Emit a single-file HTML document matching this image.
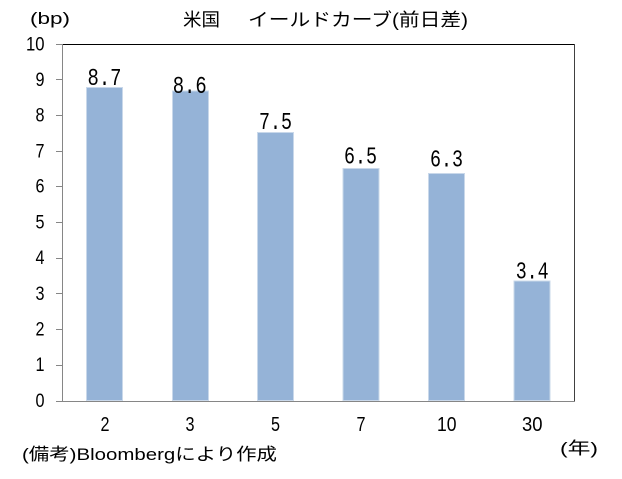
<!DOCTYPE html>
<html><head><meta charset="utf-8"><style>
html,body{margin:0;padding:0;background:#fff;}
svg{display:block;}
text{fill:#000;}
.jp{font-family:"Liberation Sans","Noto Sans CJK JP",sans-serif;}
.num{font-family:"Liberation Sans",sans-serif;}
.mono{font-family:"Liberation Mono",monospace;}
</style></head><body>
<svg width="622" height="479" viewBox="0 0 622 479" xmlns="http://www.w3.org/2000/svg">
<rect x="0" y="0" width="622" height="479" fill="#fff"/>
<!-- title -->
<text class="jp" x="183" y="26" font-size="18" textLength="37" lengthAdjust="spacingAndGlyphs">米国</text>
<text class="jp" x="248" y="26" font-size="18" textLength="220" lengthAdjust="spacingAndGlyphs">イールドカーブ(前日差)</text>
<text class="jp" x="30" y="24" font-size="17" textLength="40" lengthAdjust="spacingAndGlyphs">(bp)</text>
<!-- plot frame -->
<line x1="62" y1="44.5" x2="574.5" y2="44.5" stroke="#000" stroke-width="1"/>
<line x1="574.5" y1="44" x2="574.5" y2="401" stroke="#404040" stroke-width="1"/>
<!-- bars -->
<g fill="#95B3D7" stroke="#c9d8ea" stroke-width="1">
<rect x="86.5" y="87.5" width="36" height="313"/>
<rect x="172.5" y="91" width="36" height="309.5"/>
<rect x="257.5" y="132.5" width="36" height="268"/>
<rect x="343" y="168.5" width="36" height="232"/>
<rect x="428.5" y="173.5" width="36" height="227"/>
<rect x="514" y="281" width="36" height="119.5"/>
</g>
<!-- axes -->
<g stroke="#868686" stroke-width="1">
<line x1="62.5" y1="44" x2="62.5" y2="401"/>
<line x1="56" y1="401.5" x2="575" y2="401.5"/>
<line x1="56" y1="44.5" x2="62" y2="44.5"/>
<line x1="56" y1="79.5" x2="62" y2="79.5"/>
<line x1="56" y1="115.5" x2="62" y2="115.5"/>
<line x1="56" y1="151.5" x2="62" y2="151.5"/>
<line x1="56" y1="186.5" x2="62" y2="186.5"/>
<line x1="56" y1="222.5" x2="62" y2="222.5"/>
<line x1="56" y1="258.5" x2="62" y2="258.5"/>
<line x1="56" y1="293.5" x2="62" y2="293.5"/>
<line x1="56" y1="329.5" x2="62" y2="329.5"/>
<line x1="56" y1="365.5" x2="62" y2="365.5"/>
</g>
<!-- y labels -->
<g class="num" font-size="19">
<text x="26" y="50.5" textLength="18.5" lengthAdjust="spacingAndGlyphs">10</text>
<text x="35.5" y="86" textLength="9" lengthAdjust="spacingAndGlyphs">9</text>
<text x="35.5" y="121.5" textLength="9" lengthAdjust="spacingAndGlyphs">8</text>
<text x="35.5" y="157.5" textLength="9" lengthAdjust="spacingAndGlyphs">7</text>
<text x="35.5" y="192.5" textLength="9" lengthAdjust="spacingAndGlyphs">6</text>
<text x="35.5" y="228.5" textLength="9" lengthAdjust="spacingAndGlyphs">5</text>
<text x="35.5" y="264" textLength="9" lengthAdjust="spacingAndGlyphs">4</text>
<text x="35.5" y="300" textLength="9" lengthAdjust="spacingAndGlyphs">3</text>
<text x="35.5" y="335.5" textLength="9" lengthAdjust="spacingAndGlyphs">2</text>
<text x="35.5" y="371" textLength="9" lengthAdjust="spacingAndGlyphs">1</text>
<text x="35.5" y="407" textLength="9" lengthAdjust="spacingAndGlyphs">0</text>
</g>
<!-- x labels -->
<g class="num" font-size="20">
<text x="100.5" y="431" textLength="9" lengthAdjust="spacingAndGlyphs">2</text>
<text x="185.5" y="431" textLength="9" lengthAdjust="spacingAndGlyphs">3</text>
<text x="271" y="431" textLength="9" lengthAdjust="spacingAndGlyphs">5</text>
<text x="356.5" y="431" textLength="9" lengthAdjust="spacingAndGlyphs">7</text>
<text x="437" y="431" textLength="19.5" lengthAdjust="spacingAndGlyphs">10</text>
<text x="522" y="431" textLength="20.5" lengthAdjust="spacingAndGlyphs">30</text>
</g>
<!-- data labels -->
<g class="mono" font-size="24">
<text x="87.5" y="85" textLength="34" lengthAdjust="spacingAndGlyphs">8.7</text>
<text x="172.7" y="93" textLength="34" lengthAdjust="spacingAndGlyphs">8.6</text>
<text x="259" y="129" textLength="33" lengthAdjust="spacingAndGlyphs">7.5</text>
<text x="344" y="163.5" textLength="33" lengthAdjust="spacingAndGlyphs">6.5</text>
<text x="430" y="166.7" textLength="33" lengthAdjust="spacingAndGlyphs">6.3</text>
<text x="515.7" y="278.5" textLength="33" lengthAdjust="spacingAndGlyphs">3.4</text>
</g>
<!-- footer -->
<text class="jp" x="22" y="460" font-size="17" textLength="255" lengthAdjust="spacingAndGlyphs">(備考)Bloombergにより作成</text>
<text class="jp" x="560" y="454" font-size="17" textLength="38" lengthAdjust="spacingAndGlyphs">(年)</text>
</svg>
</body></html>
